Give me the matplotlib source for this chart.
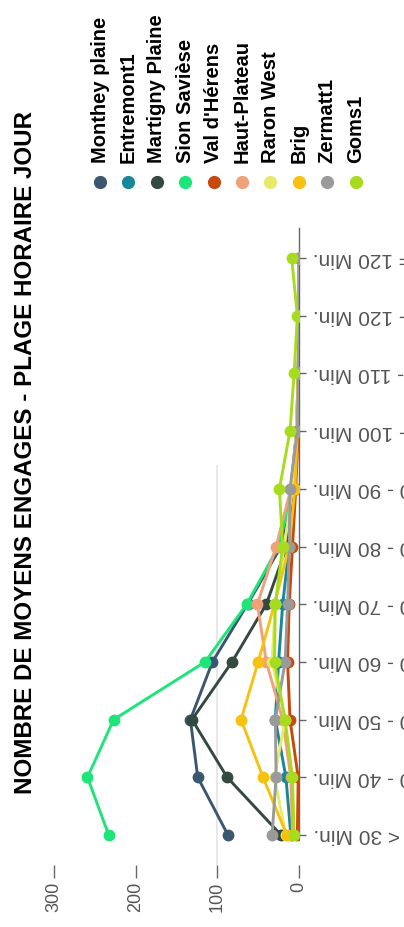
import matplotlib
matplotlib.use("Agg")
import matplotlib.pyplot as plt
from matplotlib.lines import Line2D

plt.rcParams['font.family'] = ['Liberation Sans', 'DejaVu Sans']

# categories (duration classes), bottom to top in the rotated view
categories = ["< 30 Min.", "30 - 40 Min.", "40 - 50 Min.", "50 - 60 Min.", "60 - 70 Min.",
              "70 - 80 Min.", "80 - 90 Min.", "90 - 100 Min.", "100 - 110 Min.",
              "110 - 120 Min.", ">= 120 Min."]

monthey = [87, 124, 133, 106, 63, 22, 10, 3, 1, 0, 0]
entremont = [10, 16, 29, 25, 20, 12, 6, 2, 1, 0, 0]
martigny = [22, 88, 131, 82, 40, 15, 5, 2, 0, 0, 0]
sion = [233, 259, 227, 115, 64, 25, 8, 3, 1, 0, 0]
val_herens = [2, 1, 11, 14, 12, 8, 4, 1, 0, 0, 0]
haut_plateau = [8, 10, 20, 40, 51, 28, 10, 3, 1, 0, 0]
raron = [16, 30, 17, 33, 29, 18, 8, 3, 1, 0, 0]
brig = [15, 44, 71, 50, 30, 12, 5, 2, 1, 0, 0]
zermatt = [33, 28, 29, 17, 14, 12, 11, 2, 1, 0, 0]
goms = [6, 8, 17, 30, 29, 20, 24, 11, 6, 2, 9]

names = ["Monthey plaine", "Entremont1", "Martigny Plaine", "Sion Savièse", "Val d'Hérens",
         "Haut-Plateau", "Raron West", "Brig", "Zermatt1", "Goms1"]
series = [monthey, entremont, martigny, sion, val_herens, haut_plateau, raron, brig, zermatt, goms]
colors = ["#3b5770", "#17879a", "#34493f", "#1de57a", "#c9480c",
          "#efa27a", "#e4ec6a", "#f6c20f", "#9a9a9a", "#a7dc1e"]

value_ticks = [0, 100, 200, 300]

W, H = 404, 927
fig = plt.figure(figsize=(W / 100, H / 100), dpi=100)
ax = fig.add_axes([54 / W, (H - 865) / H, (299 - 54) / W, (865 - 228) / H])

idx = list(range(len(categories)))

# faint reference line at 100
ax.plot([100, 100], [-0.52, 6.4], color='#e4e4e4', lw=1.2, zorder=1)

for vals, c in zip(series, colors):
    ax.plot(vals, idx, color=c, lw=2.1, marker='o', ms=7.5, zorder=3)

ax.set_xlim(300, 0)
ax.set_ylim(-0.52, 10.52)

for s in ['top', 'left', 'bottom']:
    ax.spines[s].set_visible(False)
ax.spines['right'].set_color('#666666')
ax.spines['right'].set_linewidth(1.0)
ax.spines['right'].set_bounds(-0.05, 10.52)

ax.yaxis.tick_right()
ax.set_yticks(idx)
ax.set_yticklabels(categories, rotation=180, ha='left', va='center',
                   fontsize=15, color='#555555')
ax.tick_params(axis='y', direction='out', length=5, width=1, color='#666666', pad=5)

ax.set_xticks(value_ticks)
ax.set_xticklabels([str(v) for v in value_ticks], rotation=90, va='top',
                   fontsize=13, color='#555555')
ax.tick_params(axis='x', direction='out', length=9, width=1, color='#666666', pad=3)

fig.text(26 / W, (H - 453) / H, "NOMBRE DE MOYENS ENGAGES - PLAGE HORAIRE JOUR",
         rotation=90, ha='center', va='center', fontsize=17.4, fontweight='bold')

# legend, drawn vertically to follow the rotated layout
for i, (name, c) in enumerate(zip(names, colors)):
    x = (100 + 28.4 * i) / W
    fig.add_artist(Line2D([x], [(H - 182) / H], transform=fig.transFigure,
                          marker='o', ms=8.5, color=c, lw=0))
    fig.text(x, (H - 163) / H, name, rotation=90, ha='center', va='bottom',
             fontsize=14.5, fontweight='bold')

fig.savefig("out.png", dpi=100)
